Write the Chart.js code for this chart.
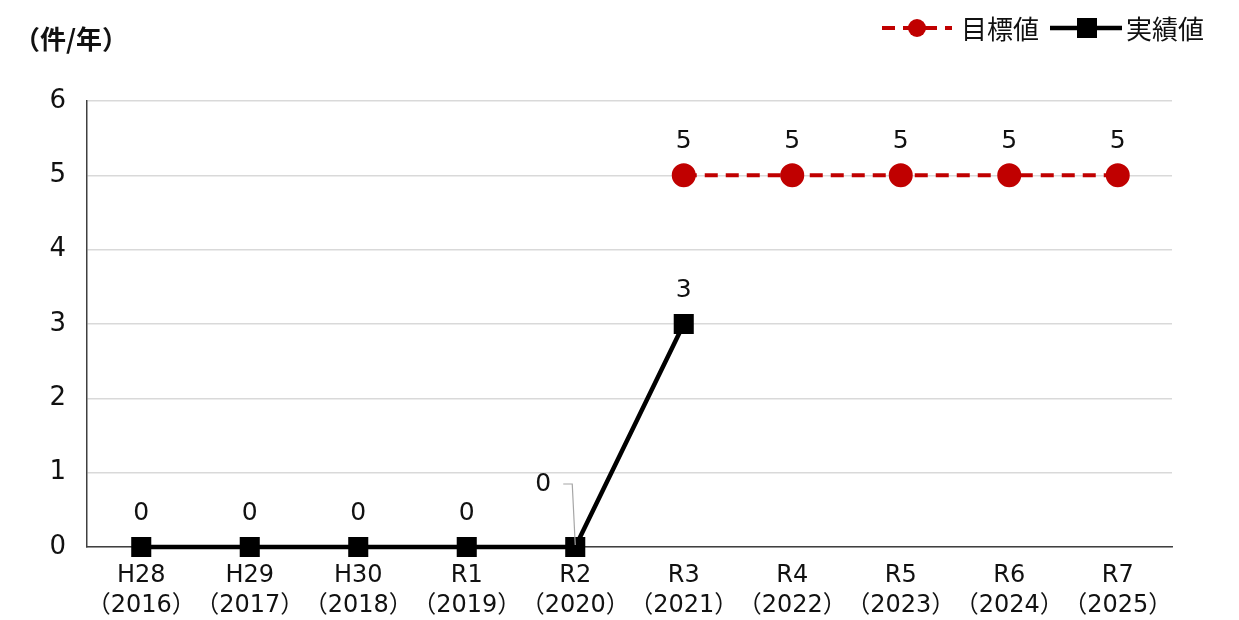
<!DOCTYPE html>
<html>
<head>
<meta charset="utf-8">
<script src="https://cdn.jsdelivr.net/npm/chart.js@4.4.1/dist/chart.umd.min.js"></script>
<style>
html,body{margin:0;padding:0;background:#fff;}
#wrap{width:1239px;height:620px;position:relative;}
</style>
</head>
<body>
<div id="wrap"><canvas id="c" width="1239" height="620"></canvas></div>
<script>
const categories = [
  ['H28','（2016）'],['H29','（2017）'],['H30','（2018）'],['R1','（2019）'],['R2','（2020）'],
  ['R3','（2021）'],['R4','（2022）'],['R5','（2023）'],['R6','（2024）'],['R7','（2025）']
];
const targetValues = [null, null, null, null, null, 5, 5, 5, 5, 5];
const actualValues = [0, 0, 0, 0, 0, 3, null, null, null, null];
const yTicks = [0, 1, 2, 3, 4, 5, 6];
const yTitle = '（件/年）';
const seriesNames = ['目標値', '実績値'];

const NUMFONT = '"DejaVu Sans", "Noto Sans CJK JP", sans-serif';
const JPFONT = '"Noto Sans CJK JP", "Noto Sans", sans-serif';
const RED = '#c00000';
const BLACK = '#000000';
const TEXT = '#111111';

const labelPlugin = {
  id: 'labels',
  afterDatasetsDraw(chart) {
    const ctx = chart.ctx;
    ctx.save();
    ctx.font = '25px ' + NUMFONT;
    ctx.fillStyle = TEXT;
    ctx.textAlign = 'center';
    ctx.textBaseline = 'middle';
    chart.data.datasets.forEach((ds, di) => {
      const meta = chart.getDatasetMeta(di);
      meta.data.forEach((pt, i) => {
        const v = ds.data[i];
        if (v === null || v === undefined) return;
        if (di === 1 && i === 4) {
          const lx = pt.x - 32, ly = pt.y - 63;
          ctx.fillText(String(v), lx, ly);
          ctx.strokeStyle = '#a6a6a6';
          ctx.lineWidth = 1.2;
          ctx.beginPath();
          ctx.moveTo(lx + 20, ly);
          ctx.lineTo(lx + 29, ly);
          ctx.lineTo(pt.x, pt.y - 2);
          ctx.stroke();
        } else {
          ctx.fillText(String(v), pt.x, pt.y - 34);
        }
      });
    });
    ctx.restore();
  },
  afterDraw(chart) {
    const ctx = chart.ctx;
    ctx.save();
    ctx.font = 'bold 26px ' + JPFONT;
    ctx.fillStyle = TEXT;
    ctx.textAlign = 'left';
    ctx.textBaseline = 'middle';
    ctx.fillText(yTitle, 14, 39);
    const y = 28;
    ctx.font = '26px ' + JPFONT;
    ctx.strokeStyle = RED;
    ctx.lineWidth = 4;
    ctx.setLineDash([13, 8]);
    ctx.beginPath(); ctx.moveTo(882, y); ctx.lineTo(952, y); ctx.stroke();
    ctx.setLineDash([]);
    ctx.fillStyle = RED;
    ctx.beginPath(); ctx.arc(917, y, 9, 0, Math.PI * 2); ctx.fill();
    ctx.fillStyle = TEXT;
    ctx.fillText(seriesNames[0], 961, y + 1);
    ctx.strokeStyle = BLACK;
    ctx.lineWidth = 4.5;
    ctx.beginPath(); ctx.moveTo(1050, y); ctx.lineTo(1122, y); ctx.stroke();
    ctx.fillStyle = BLACK;
    ctx.fillRect(1077, y - 10, 20, 20);
    ctx.fillStyle = TEXT;
    ctx.fillText(seriesNames[1], 1126, y + 1);
    ctx.restore();
  }
};

new Chart(document.getElementById('c'), {
  type: 'line',
  data: {
    labels: categories,
    datasets: [
      {
        label: seriesNames[0],
        data: targetValues,
        borderColor: RED,
        backgroundColor: RED,
        borderWidth: 4,
        borderDash: [13, 8],
        pointStyle: 'circle',
        pointRadius: 10,
        pointHoverRadius: 10,
        clip: false,
        order: 2
      },
      {
        label: seriesNames[1],
        data: actualValues,
        borderColor: BLACK,
        backgroundColor: BLACK,
        borderWidth: 4.5,
        pointStyle: 'rect',
        pointRadius: 11,
        pointHoverRadius: 11,
        clip: false,
        order: 1
      }
    ]
  },
  options: {
    responsive: false,
    animation: false,
    devicePixelRatio: 1,
    layout: { padding: { top: 101, right: 67, bottom: 0, left: 0 } },
    plugins: { legend: { display: false }, tooltip: { enabled: false } },
    scales: {
      x: {
        offset: true,
        grid: { display: false, drawTicks: false },
        border: { display: true, color: '#404040', width: 1.5 },
        ticks: { color: TEXT, font: { family: NUMFONT, size: 24, lineHeight: 1.25 }, padding: 14, maxRotation: 0, autoSkip: false },
        afterFit(s) { s.height = 73; }
      },
      y: {
        min: 0, max: 6,
        afterBuildTicks(s) { s.ticks = yTicks.map(v => ({ value: v })); },
        grid: { color: '#d9d9d9', lineWidth: 1.5, drawTicks: false },
        border: { display: true, color: '#404040', width: 1.5 },
        ticks: { color: TEXT, font: { family: NUMFONT, size: 26 }, padding: 21 },
        afterFit(s) { s.width = 87; }
      }
    }
  },
  plugins: [labelPlugin]
});
</script>
</body>
</html>
